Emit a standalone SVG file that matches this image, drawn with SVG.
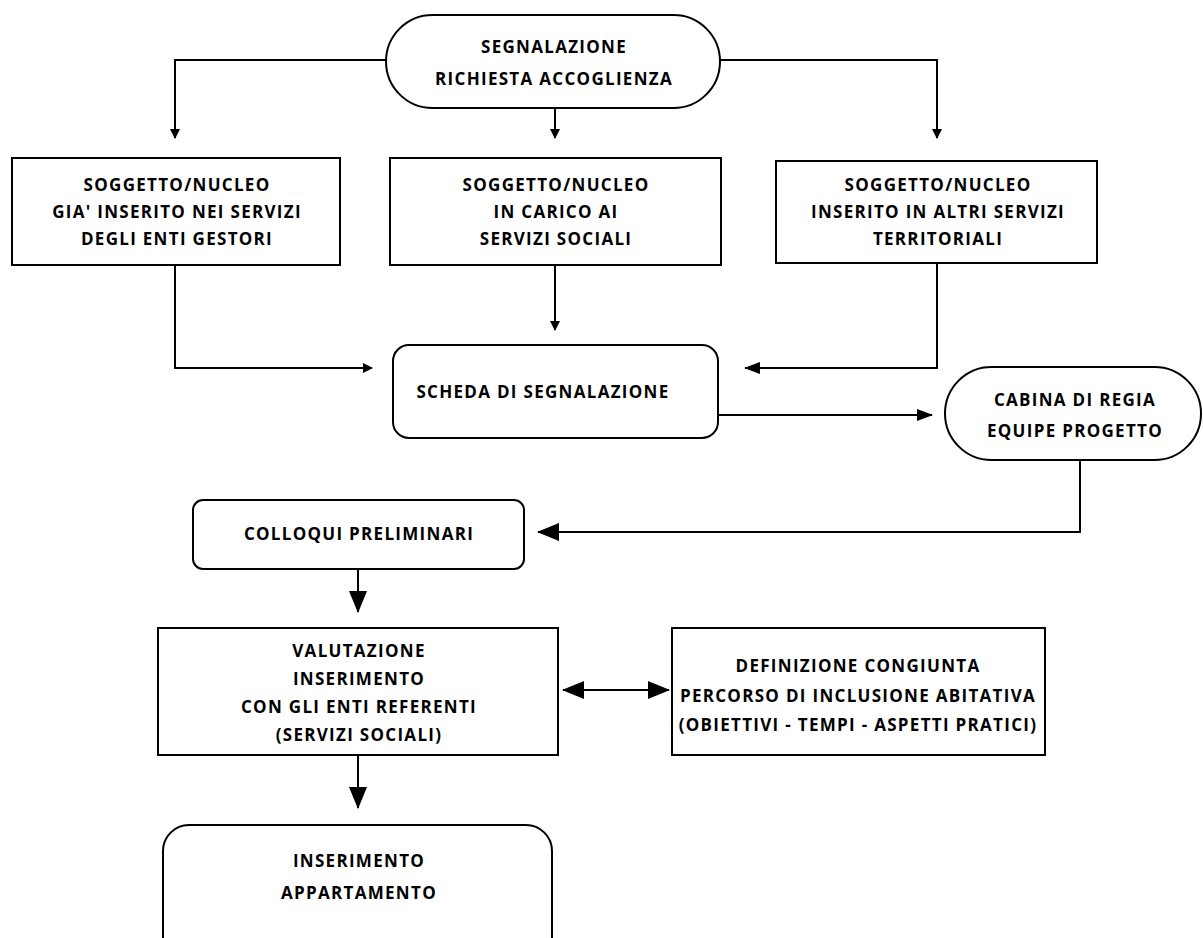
<svg xmlns="http://www.w3.org/2000/svg" width="1203" height="938" viewBox="0 0 1203 938">
<style>
.n{fill:#fff;stroke:#000;stroke-width:2}
.t{font-family:"Open Sans","Liberation Sans",sans-serif;font-weight:bold;font-size:17px;text-anchor:middle;fill:#000;letter-spacing:1.3px}
.c{fill:none;stroke:#000;stroke-width:2}
</style>
<defs>
<marker id="s" markerWidth="10" markerHeight="12" refX="9" refY="6" orient="auto" markerUnits="userSpaceOnUse"><path d="M0,1 L10,6 L0,11 Z" fill="#000"/></marker>
<marker id="m" markerWidth="16" markerHeight="14" refX="15" refY="7" orient="auto" markerUnits="userSpaceOnUse"><path d="M0,1 L16,7 L0,13 Z" fill="#000"/></marker>
<marker id="L" markerWidth="22" markerHeight="22" refX="21" refY="11" orient="auto" markerUnits="userSpaceOnUse"><path d="M0,2 L22,11 L0,20 Z" fill="#000"/></marker>
<marker id="Ls" markerWidth="22" markerHeight="22" refX="1" refY="11" orient="auto" markerUnits="userSpaceOnUse"><path d="M22,2 L0,11 L22,20 Z" fill="#000"/></marker>
</defs>
<g id="connectors">
<path class="c" d="M386,60 H175 V138" marker-end="url(#s)"/>
<path class="c" d="M555,108 V138" marker-end="url(#s)"/>
<path class="c" d="M720,60 H937 V138" marker-end="url(#s)"/>
<path class="c" d="M175,265 V368 H372" marker-end="url(#s)"/>
<path class="c" d="M555,265 V330" marker-end="url(#s)"/>
<path class="c" d="M937,263 V368 H745" marker-end="url(#m)"/>
<path class="c" d="M718,415 H932" marker-end="url(#m)"/>
<path class="c" d="M1080,460 V532 H538" marker-end="url(#L)"/>
<path class="c" d="M358,569 V612" marker-end="url(#L)"/>
<path class="c" d="M563,690 H669" marker-start="url(#Ls)" marker-end="url(#L)"/>
<path class="c" d="M358,755 V808" marker-end="url(#L)"/>
</g>
<g id="segnalazione">
<rect class="n" x="386" y="15" width="334" height="93" rx="46.5"/>
<text class="t" x="554" y="53">SEGNALAZIONE</text>
<text class="t" x="554" y="85">RICHIESTA ACCOGLIENZA</text>
</g>
<g id="soggetto1">
<rect class="n" x="12" y="158" width="328" height="107"/>
<text class="t" x="177" y="191">SOGGETTO/NUCLEO</text>
<text class="t" x="177" y="218">GIA' INSERITO NEI SERVIZI</text>
<text class="t" x="177" y="245">DEGLI ENTI GESTORI</text>
</g>
<g id="soggetto2">
<rect class="n" x="390" y="158" width="331" height="107"/>
<text class="t" x="556" y="191">SOGGETTO/NUCLEO</text>
<text class="t" x="556" y="218">IN CARICO AI</text>
<text class="t" x="556" y="245">SERVIZI SOCIALI</text>
</g>
<g id="soggetto3">
<rect class="n" x="776" y="161" width="321" height="102"/>
<text class="t" x="938" y="191">SOGGETTO/NUCLEO</text>
<text class="t" x="938" y="218">INSERITO IN ALTRI SERVIZI</text>
<text class="t" x="938" y="245">TERRITORIALI</text>
</g>
<g id="scheda">
<rect class="n" x="393" y="345" width="325" height="93" rx="16"/>
<text class="t" x="543" y="398">SCHEDA DI SEGNALAZIONE</text>
</g>
<g id="cabina">
<rect class="n" x="945" y="367" width="256" height="93" rx="46.5"/>
<text class="t" x="1075" y="406">CABINA DI REGIA</text>
<text class="t" x="1075" y="437">EQUIPE PROGETTO</text>
</g>
<g id="colloqui">
<rect class="n" x="193" y="500" width="331" height="69" rx="10"/>
<text class="t" x="359" y="540">COLLOQUI PRELIMINARI</text>
</g>
<g id="valutazione">
<rect class="n" x="158" y="628" width="400" height="127"/>
<text class="t" x="359" y="657">VALUTAZIONE</text>
<text class="t" x="359" y="685">INSERIMENTO</text>
<text class="t" x="359" y="713">CON GLI ENTI REFERENTI</text>
<text class="t" x="359" y="741">(SERVIZI SOCIALI)</text>
</g>
<g id="definizione">
<rect class="n" x="672" y="628" width="373" height="127"/>
<text class="t" x="858" y="672">DEFINIZIONE CONGIUNTA</text>
<text class="t" x="858" y="702">PERCORSO DI INCLUSIONE ABITATIVA</text>
<text class="t" x="858" y="731">(OBIETTIVI - TEMPI - ASPETTI PRATICI)</text>
</g>
<g id="inserimento">
<rect class="n" x="163" y="825" width="389" height="140" rx="26"/>
<text class="t" x="359" y="867">INSERIMENTO</text>
<text class="t" x="359" y="899">APPARTAMENTO</text>
</g>
</svg>
